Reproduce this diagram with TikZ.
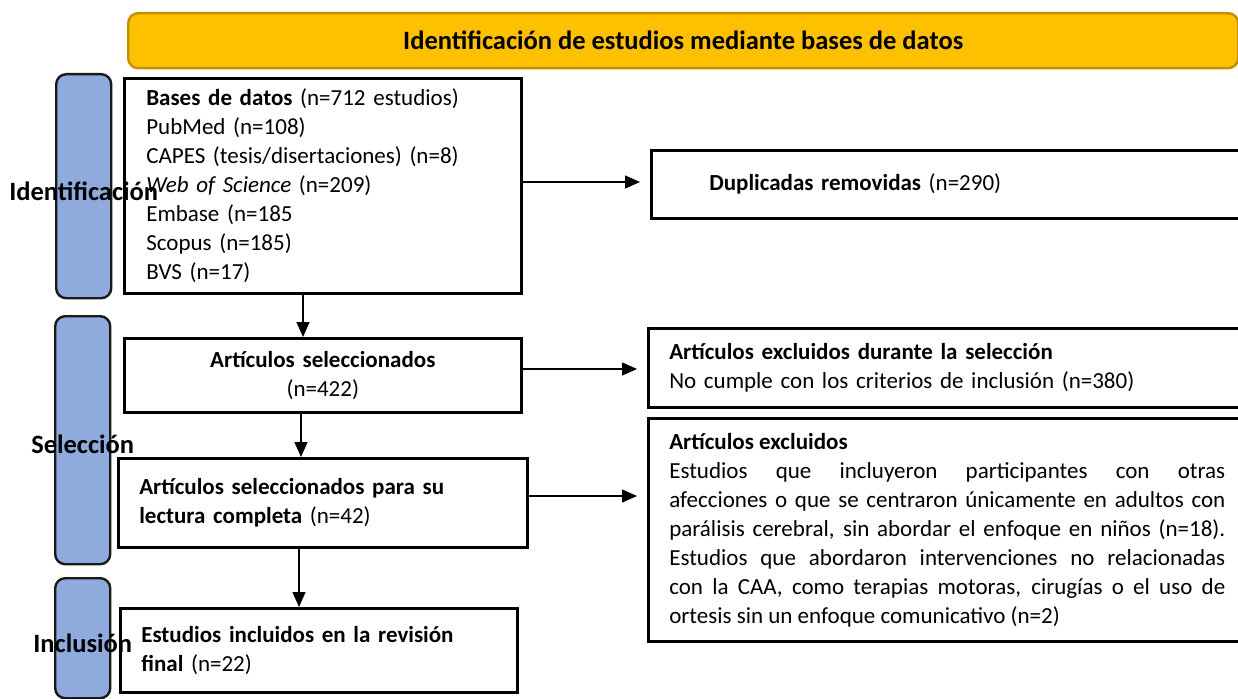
\documentclass[tikz,border=0pt]{standalone}
\usepackage{fontspec}
\setmainfont{Carlito}
\usepackage{xcolor}
\usetikzlibrary{arrows.meta,positioning}
\definecolor{bannerfill}{HTML}{FFC000}
\definecolor{bannerline}{HTML}{BF9000}
\definecolor{phasefill}{HTML}{8FAADC}

\begin{document}
\begin{tikzpicture}[x=1pt, y=-1pt, font=\fontsize{23}{29}\selectfont]
\tikzstyle{box} = [rectangle, draw = black, line width=2.6pt, inner ysep=0pt, anchor=north west]
\tikzstyle{phase} = [rectangle, rounded corners=10pt, draw = black!90, line width=2.4pt, fill=phasefill, anchor=north west, minimum width=55pt]
\tikzstyle{phaselabel} = [font=\fontsize{26.5}{32}\selectfont\bfseries]
\tikzstyle{flow} = [line width=1.4pt, -{Triangle[length=15pt, width=13pt]}]
\clip (0,0) rectangle (1238,698);
\node (banner) [rectangle, rounded corners=10pt, draw = bannerline, line width=2.4pt, fill=bannerfill, anchor=north west, minimum width=1110pt, minimum height=55pt, font=\fontsize{26.5}{32}\selectfont\bfseries] at (127,12) {Identificación de estudios mediante bases de datos};
\node (idbar) [phase, minimum height=224pt] at (55,73) {};
\node (selbar) [phase, minimum height=248pt] at (54,315) {};
\node (inbar) [phase, minimum height=120pt] at (54,577) {};
\node (idlabel) [phaselabel, yshift=-5pt] at (idbar) {Identificación};
\node (sellabel) [phaselabel, yshift=-4pt] at (selbar) {Selección};
\node (inlabel) [phaselabel, yshift=-5pt] at (inbar) {Inclusión};
\node (dbs) [box, text width=353pt, inner xsep=22pt, minimum height=215pt, align=left] at (123,77) {\textbf{Bases de datos} (n=712 estudios)\\ PubMed (n=108)\\ CAPES (tesis/disertaciones) (n=8)\\ \textit{Web of Science} (n=209)\\ Embase (n=185\\ Scopus (n=185)\\ BVS (n=17)};
\node (dup) [box, text width=504pt, inner xsep=58pt, minimum height=68pt, align=left] at (650,149) {\textbf{Duplicadas removidas} (n=290)};
\node (sel) [box, text width=353pt, inner xsep=22pt, minimum height=74pt, align=center] at (123,337) {\textbf{Artículos seleccionados}\\ (n=422)};
\node (exsel) [box, text width=556pt, inner xsep=21pt, minimum height=79pt, align=left] at (647,327) {\textbf{Artículos excluidos durante la selección}\\ No cumple con los criterios de inclusión (n=380)};
\node (full) [box, text width=367pt, inner xsep=21pt, minimum height=89pt, align=left] at (117,457) {\textbf{Artículos seleccionados para su}\\ \textbf{lectura completa} (n=42)};
\node (exfull) [box, text width=556pt, inner xsep=21pt, minimum height=223pt, align=justify] at (647,417) {\textbf{Artículos excluidos}\\ Estudios que incluyeron participantes con otras\linebreak afecciones o que se centraron únicamente en adultos con\linebreak parálisis cerebral, sin abordar el enfoque en niños (n=18).\linebreak Estudios que abordaron intervenciones no relacionadas\linebreak con la CAA, como terapias motoras, cirugías o el uso de\linebreak ortesis sin un enfoque comunicativo (n=2)};
\node (incl) [box, text width=355pt, inner xsep=21pt, minimum height=84pt, align=left] at (119,607) {\textbf{Estudios incluidos en la revisión}\\ \textbf{final} (n=22)};
\draw [flow] (dbs.south -| 303,0) -- (sel.north -| 303,0);
\draw [flow] (sel.south -| 301,0) -- (full.north -| 301,0);
\draw [flow] (full.south -| 299,0) -- (incl.north -| 299,0);
\draw [flow, shorten >=10pt] (dbs.east |- 0,182) -- (dup.west |- 0,182);
\draw [flow, shorten >=10pt] (sel.east |- 0,369) -- (exsel.west |- 0,369);
\draw [flow, shorten >=10pt] (full.east |- 0,496) -- (exfull.west |- 0,496);
\end{tikzpicture}
\end{document}
